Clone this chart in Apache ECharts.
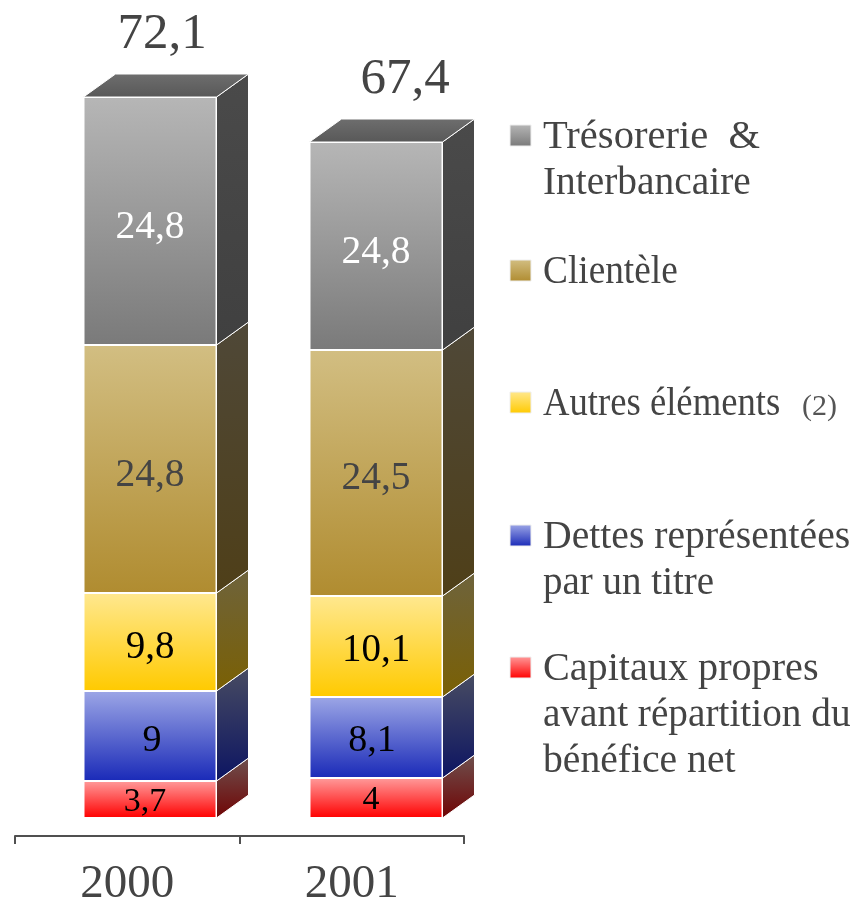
<!DOCTYPE html>
<html lang="fr">
<head>
    <meta charset="UTF-8">
    <title>Passif 2000-2001</title>
    <script src="https://cdn.jsdelivr.net/npm/echarts@6/dist/echarts.min.js"></script>
    <style>
        html, body { margin: 0; padding: 0; background: #fff; }
    </style>
</head>
<body>
<div id="main" style="width:858px;height:898px;"></div>
<script>
var years = ['2000', '2001'];

// du bas vers le haut de la pile, hauteurs
var capitaux = [3.7, 4];
var dettes = [9, 8.1];
var autres = [9.8, 10.1];
var clientele = [24.8, 24.6];
var tresorerie = [24.8, 20.8];

// libellés tels qu'imprimés (le 24,8 de 2001 est bien écrit ainsi sur l'original)
var capitauxLabels = ['3,7', '4'];
var dettesLabels = ['9', '8,1'];
var autresLabels = ['9,8', '10,1'];
var clienteleLabels = ['24,8', '24,5'];
var tresorerieLabels = ['24,8', '24,8'];
var totalLabels = ['72,1', '67,4'];

var legendTresorerie = ['Trésorerie  &', 'Interbancaire'];
var legendClientele = ['Clientèle'];
var legendAutres = ['Autres éléments'];
var legendDettes = ['Dettes représentées', 'par un titre'];
var legendCapitaux = ['Capitaux propres', 'avant répartition du', 'bénéfice net'];

var FONT = '"Liberation Serif", "Times New Roman", serif';
var TEXT = '#444444';
var DEPTH_X = 32, DEPTH_Y = 23, BAR_W = 133;
var TOTAL_DX = [12, 29];   // décalage des totaux par rapport au centre de la barre

function vgrad(c1, c2) {
    return new echarts.graphic.LinearGradient(0, 0, 0, 1, [
        { offset: 0, color: c1 },
        { offset: 1, color: c2 }
    ]);
}

var layers = [
    { name: 'Capitaux', values: capitaux, labels: capitauxLabels, front: ['#ff9a9a', '#ff0000'], side: ['#6e504e', '#700404'], labelColor: '#000', labelSize: 34, nudge: [[-5, 3], [-5, 2]] },
    { name: 'Dettes', values: dettes, labels: dettesLabels, front: ['#9ca6e6', '#1a2ab8'], side: ['#484c62', '#0c1462'], labelColor: '#000', labelSize: 38, nudge: [[2, 5], [-4, 4]] },
    { name: 'Autres', values: autres, labels: autresLabels, front: ['#ffe88f', '#ffca00'], side: ['#6e633c', '#7a6004'], labelColor: '#000', labelSize: 39, nudge: [[0, 6], [0, 4]] },
    { name: 'Clientele', values: clientele, labels: clienteleLabels, front: ['#d2be82', '#b08c30'], side: ['#4f4838', '#4f3f18'], labelColor: '#444', labelSize: 39.5, nudge: [[0, 7], [0, 6]] },
    { name: 'Tresorerie', values: tresorerie, labels: tresorerieLabels, front: ['#b6b6b6', '#7a7a7a'], side: ['#4a4a4a', '#404040'], labelColor: '#fff', labelSize: 39.5, nudge: [[0, 7], [0, 7]] }
];

var series = [];
var base = [0, 0];

layers.forEach(function (layer) {
    var sideData = [];
    layer.values.forEach(function (v, i) {
        sideData.push([i, base[i], base[i] + v]);
        base[i] += v;
    });

    // face droite du bloc
    series.push({
        type: 'custom',
        xAxisIndex: 0,
        yAxisIndex: 0,
        z: 1,
        silent: true,
        data: sideData,
        renderItem: function (params, api) {
            var lo = api.coord([api.value(0), api.value(1)]);
            var hi = api.coord([api.value(0), api.value(2)]);
            var x = lo[0] + BAR_W / 2;
            return {
                type: 'polygon',
                shape: {
                    points: [
                        [x, lo[1]],
                        [x + DEPTH_X, lo[1] - DEPTH_Y],
                        [x + DEPTH_X, hi[1] - DEPTH_Y],
                        [x, hi[1]]
                    ]
                },
                style: { fill: vgrad(layer.side[0], layer.side[1]), stroke: '#fff', lineWidth: 1 }
            };
        }
    });

    // face avant
    series.push({
        name: layer.name,
        type: 'bar',
        stack: 'passif',
        xAxisIndex: 0,
        yAxisIndex: 0,
        z: 2,
        barWidth: BAR_W,
        data: layer.values.map(function (v, i) {
            return { value: v, label: { offset: layer.nudge[i] } };
        }),
        itemStyle: {
            color: vgrad(layer.front[0], layer.front[1]),
            borderColor: '#fff',
            borderWidth: 1
        },
        label: {
            show: true,
            position: 'inside',
            fontFamily: FONT,
            fontSize: layer.labelSize,
            color: layer.labelColor,
            formatter: function (p) { return layer.labels[p.dataIndex]; }
        }
    });
});

// dessus du bloc et totaux, posés sur le haut de la pile
series.push({
    type: 'custom',
    xAxisIndex: 0,
    yAxisIndex: 0,
    z: 3,
    silent: true,
    data: base.map(function (t, i) { return [i, t]; }),
    renderItem: function (params, api) {
        var top = api.coord([api.value(0), api.value(1)]);
        var l = top[0] - BAR_W / 2, r = top[0] + BAR_W / 2, y = top[1];
        return {
            type: 'group',
            children: [{
                type: 'polygon',
                shape: {
                    points: [[l, y], [l + DEPTH_X, y - DEPTH_Y], [r + DEPTH_X, y - DEPTH_Y], [r, y]]
                },
                style: { fill: vgrad('#6e6e6e', '#585858'), stroke: '#fff', lineWidth: 1 }
            }, {
                type: 'text',
                style: {
                    text: totalLabels[params.dataIndex],
                    x: top[0] + TOTAL_DX[params.dataIndex],
                    y: y - 62,
                    align: 'center',
                    verticalAlign: 'middle',
                    font: '51px ' + FONT,
                    fill: TEXT
                }
            }]
        };
    }
});

// légende : pavé dégradé + lignes de texte alignées sur la première ligne
// widths = étirement horizontal de chaque ligne, l'original est justifié
function legendItem(layer, y, lines, widths) {
    var children = [{
        type: 'rect',
        shape: { x: 510, y: y - 10, width: 21, height: 21 },
        style: { fill: vgrad(layer.front[0], layer.front[1]), stroke: '#eeeeee', lineWidth: 1 }
    }];
    lines.forEach(function (line, i) {
        children.push({
            type: 'text',
            x: 543,
            y: y + 3 + i * 46,
            scaleX: widths[i],
            style: {
                text: line,
                verticalAlign: 'middle',
                font: '39px ' + FONT,
                fill: TEXT
            }
        });
    });
    return { type: 'group', children: children };
}

var legendGraphics = [
    legendItem(layers[4], 135, legendTresorerie, [1.04, 1.01]),
    legendItem(layers[3], 270, legendClientele, [0.957]),
    legendItem(layers[2], 402, legendAutres, [0.94]),
    legendItem(layers[1], 535, legendDettes, [1.017, 1]),
    legendItem(layers[0], 667, legendCapitaux, [1.03, 1.007, 1.016]),
    {
        type: 'text',
        style: { text: '(2)', x: 802, y: 407, verticalAlign: 'middle', font: '30px ' + FONT, fill: '#555555' }
    }
];

var chart = echarts.init(document.getElementById('main'), null, { renderer: 'canvas' });
chart.setOption({
    animation: false,
    backgroundColor: '#ffffff',
    tooltip: { show: false },
    grid: [
        // les blocs : 10 px par unité, base à y=818
        { left: 37, width: 452, top: 18, height: 800, outerBoundsMode: 'none' },
        // l'axe des années, décalé sous les blocs
        { left: 15, width: 449, top: 801, height: 35, outerBoundsMode: 'none' }
    ],
    xAxis: [
        { type: 'category', gridIndex: 0, data: years, show: false },
        {
            type: 'category',
            gridIndex: 1,
            data: years,
            axisLine: { show: true, lineStyle: { color: '#505050', width: 2 } },
            axisTick: { show: true, length: 8, lineStyle: { color: '#505050', width: 2 } },
            axisLabel: { color: TEXT, fontFamily: FONT, fontSize: 47, margin: 25 }
        }
    ],
    yAxis: [
        { type: 'value', gridIndex: 0, min: 0, max: 80, show: false },
        { type: 'value', gridIndex: 1, min: 0, max: 1, show: false }
    ],
    series: series,
    graphic: legendGraphics
});

window.onresize = function () {
    chart.resize();
};
</script>
</body>
</html>
